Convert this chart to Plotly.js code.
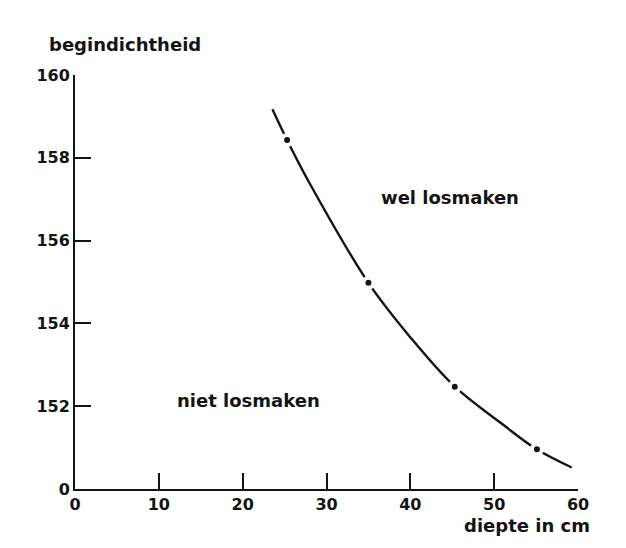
<!DOCTYPE html>
<html>
<head>
<meta charset="utf-8">
<script src="https://cdn.plot.ly/plotly-3.0.1.min.js"></script>
<style>html,body{margin:0;padding:0;background:#fff;}</style>
</head>
<body>
<div id="chart" style="width:626px;height:548px;"></div>
<script>
// Curve (depth in cm, initial density)
const curveDepth   = [23.55, 25.29, 28.0, 35.0, 39.94, 45.31, 51.08, 55.07, 59.25];
const curveDensity = [159.17, 158.43, 157.38, 154.98, 153.68, 152.47, 151.55, 150.96, 150.52];
// Marked points on the curve
const pointDepth   = [25.3, 35.0, 45.3, 55.1];
const pointDensity = [158.43, 154.98, 152.47, 150.96];
// Axis ticks
const xTickVals = [0, 10, 20, 30, 40, 50, 60];
const xTickText = ['0', '10', '20', '30', '40', '50', '60'];
const yTickVals = [150, 152, 154, 156, 158, 160];
const yTickText = ['0', '152', '154', '156', '158', '160'];

const ink = '#141414';
const fam = 'DejaVu Sans, sans-serif';
const txt = {family: fam, size: 18, color: ink, weight: 'bold'};
const tck = {family: fam, size: 16, color: ink, weight: 'bold'};

const traces = [
  {x: curveDepth, y: curveDensity, mode: 'lines', line: {color: ink, width: 2.4, shape: 'spline', smoothing: 1}, hoverinfo: 'none'},
  {x: pointDepth, y: pointDensity, mode: 'markers', marker: {color: ink, size: 10, line: {color: '#fff', width: 4}}, hoverinfo: 'none'}
];

const layout = {
  width: 626, height: 548,
  margin: {l: 75, r: 48, t: 75, b: 59, pad: 0},
  paper_bgcolor: '#fff', plot_bgcolor: '#fff',
  showlegend: false,
  font: txt,
  xaxis: {
    range: [0, 60], tickvals: xTickVals, ticktext: xTickText,
    ticks: 'inside', ticklen: 16, tickwidth: 2, tickcolor: ink,
    showline: true, linewidth: 2, linecolor: ink, showgrid: false, zeroline: false,
    tickfont: tck
  },
  yaxis: {
    range: [150, 160], tickvals: yTickVals, ticktext: yTickText,
    ticks: 'inside', ticklen: 16, tickwidth: 2, tickcolor: ink,
    showline: true, linewidth: 2, linecolor: ink, showgrid: false, zeroline: false,
    tickfont: tck
  },
  annotations: [
    {text: 'begindichtheid', xref: 'paper', yref: 'paper', x: -0.056, y: 1.0725, xanchor: 'left', yanchor: 'middle', showarrow: false, font: txt},
    {text: 'wel losmaken', xref: 'paper', yref: 'paper', x: 0.7465, y: 0.703, xanchor: 'center', yanchor: 'middle', showarrow: false, font: txt},
    {text: 'niet losmaken', xref: 'paper', yref: 'paper', x: 0.345, y: 0.2126, xanchor: 'center', yanchor: 'middle', showarrow: false, font: txt},
    {text: 'diepte in cm', xref: 'paper', yref: 'paper', x: 1.028, y: -0.088, xanchor: 'right', yanchor: 'middle', showarrow: false, font: txt}
  ]
};

Plotly.newPlot('chart', traces, layout, {staticPlot: true, displayModeBar: false});
</script>
</body>
</html>
